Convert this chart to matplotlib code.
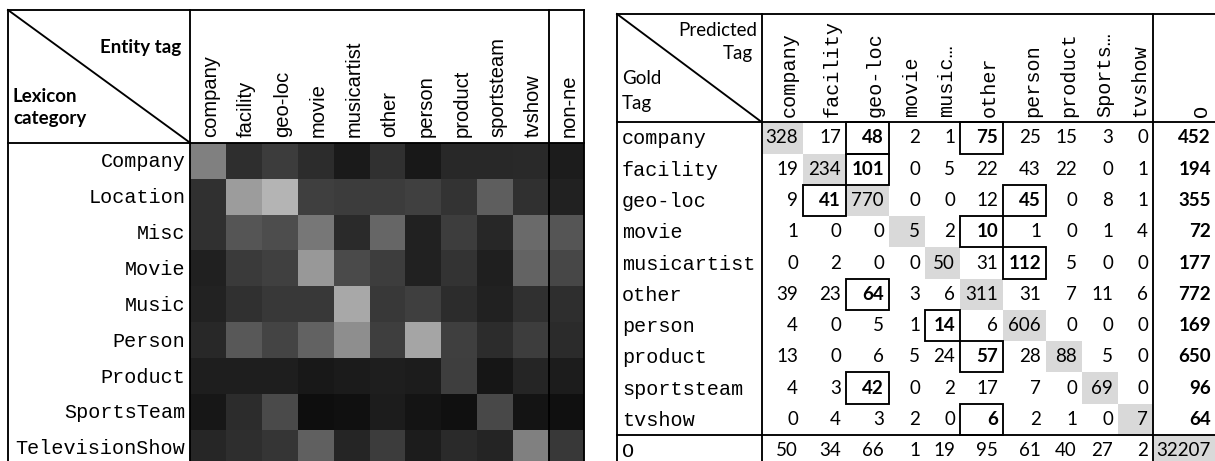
import matplotlib
matplotlib.use("Agg")
import matplotlib.pyplot as plt
from matplotlib.patches import Rectangle
import numpy as np

# ---------------- data ----------------
lexicon_categories = ['Company', 'Location', 'Misc', 'Movie', 'Music', 'Person',
                      'Product', 'SportsTeam', 'TelevisionShow']
entity_tags = ['company', 'facility', 'geo-loc', 'movie', 'musicartist', 'other',
               'person', 'product', 'sportsteam', 'tvshow', 'non-ne']
# grey level (0-255) of each heat-map cell, rows = lexicon categories
heat_grey = [
    [128, 46, 60, 44, 26, 48, 24, 40, 40, 41, 28],
    [48, 156, 180, 63, 60, 60, 64, 51, 94, 48, 33],
    [48, 85, 77, 119, 42, 102, 33, 61, 39, 106, 85],
    [32, 58, 64, 152, 74, 61, 33, 51, 31, 99, 71],
    [34, 48, 56, 56, 168, 56, 63, 44, 33, 48, 46],
    [40, 88, 68, 98, 142, 62, 165, 63, 44, 61, 43],
    [30, 30, 30, 24, 27, 30, 28, 62, 22, 37, 28],
    [23, 44, 74, 14, 16, 28, 20, 16, 72, 20, 16],
    [38, 46, 53, 96, 37, 60, 28, 42, 36, 128, 56],
]

gold_tags = ['company', 'facility', 'geo-loc', 'movie', 'musicartist', 'other',
             'person', 'product', 'sportsteam', 'tvshow', 'O']
predicted_tags = ['company', 'facility', 'geo-loc', 'movie', 'music\u2026', 'other',
                  'person', 'product', 'Sports\u2026', 'tvshow', 'O']
confusion = [
    [328, 17, 48, 2, 1, 75, 25, 15, 3, 0, 452],
    [19, 234, 101, 0, 5, 22, 43, 22, 0, 1, 194],
    [9, 41, 770, 0, 0, 12, 45, 0, 8, 1, 355],
    [1, 0, 0, 5, 2, 10, 1, 0, 1, 4, 72],
    [0, 2, 0, 0, 50, 31, 112, 5, 0, 0, 177],
    [39, 23, 64, 3, 6, 311, 31, 7, 11, 6, 772],
    [4, 0, 5, 1, 14, 6, 606, 0, 0, 0, 169],
    [13, 0, 6, 5, 24, 57, 28, 88, 5, 0, 650],
    [4, 3, 42, 0, 2, 17, 7, 0, 69, 0, 96],
    [0, 4, 3, 2, 0, 6, 2, 1, 0, 7, 64],
    [50, 34, 66, 1, 19, 95, 61, 40, 27, 2, 32207],
]
# highlighted (boxed, bold) confusions: (gold row, predicted col)
boxed_cells = [(0, 2), (0, 5), (1, 2), (2, 1), (2, 6), (3, 5), (4, 6),
               (5, 2), (6, 4), (7, 5), (8, 2), (9, 5)]

# ---------------- layout ----------------
W, H = 1215, 461
fig = plt.figure(figsize=(W / 100, H / 100), dpi=100)
ax = fig.add_axes([0, 0, 1, 1])
ax.set_xlim(0, W)
ax.set_ylim(H, 0)
ax.axis('off')

MONO = 'Liberation Mono'
ARIAL = 'Liberation Sans'
CAL = 'Lato'
LW = 1.35


def line(x0, y0, x1, y1, lw=LW):
    ax.plot([x0, x1], [y0, y1], color='black', lw=lw, solid_capstyle='projecting')


# ===== left: lexicon heat map =====
L_left, L_top, L_div, L_hdr = 8, 10, 190, 142.7
cw, rh = 35.9, 35.9
ncol_main = len(entity_tags) - 1
L_nn = L_div + cw * ncol_main
L_right = L_nn + 35
xedges = [L_div + cw * i for i in range(ncol_main + 1)] + [L_right]
yedges = [L_hdr + rh * i for i in range(len(lexicon_categories) + 1)]
ax.pcolormesh(xedges, yedges, np.array(heat_grey, dtype=float), cmap='gray',
              vmin=0, vmax=255, shading='flat', zorder=1)

line(L_left, L_top, L_right, L_top)
line(L_left, L_top, L_left, H + 5)
line(L_right, L_top, L_right, H + 5)
line(L_div, L_top, L_div, H + 5)
line(L_nn, L_top, L_nn, H + 5)
line(L_left, L_hdr, L_right, L_hdr)
line(L_left, L_top, L_div, L_hdr)

ax.text(181.5, 47, 'Entity tag', family=CAL, weight='bold', fontsize=13.5,
        ha='right', va='center')
ax.text(13, 96, 'Lexicon', family=CAL, weight='bold', fontsize=13.5,
        ha='left', va='center')
ax.text(13, 118.5, 'category', family=CAL, weight='bold', fontsize=13.5,
        ha='left', va='center')

for j, tag in enumerate(entity_tags):
    ax.text(xedges[j] + 26, 137, tag, family=ARIAL, fontsize=14.5, rotation=90,
            rotation_mode='anchor', ha='left', va='baseline')
for i, cat in enumerate(lexicon_categories):
    ax.text(185.5, yedges[i] + rh / 2 + 1, cat, family=MONO, fontsize=14.5,
            ha='right', va='center')

# ===== right: confusion matrix table =====
R_left, R_top, R_div, R_hdr = 617, 14, 762, 122.3
col_edges = [762, 803, 846, 889, 925, 960, 1003, 1046, 1082, 1118, 1153, 1240]
rrh = 31.27
row_edges = [R_hdr + rrh * i for i in range(len(gold_tags) + 1)]
nreal = len(gold_tags) - 1

# grey diagonal cells
for k in range(len(gold_tags)):
    x0, x1 = col_edges[k], col_edges[k + 1]
    ax.add_patch(Rectangle((x0, row_edges[k]), x1 - x0, rrh, facecolor='#d9d9d9',
                           edgecolor='none', zorder=1))

line(R_left, R_top, W + 10, R_top)
line(R_left, R_top, R_left, H + 5)
line(R_div, R_top, R_div, H + 5)
line(col_edges[10], R_top, col_edges[10], H + 5)
line(R_left, R_hdr, W + 10, R_hdr)
line(R_left, row_edges[nreal], W + 10, row_edges[nreal])
line(R_left, R_top, R_div, R_hdr)

ax.text(757, 30, 'Predicted', family=CAL, fontsize=13.5, ha='right', va='center')
ax.text(753, 53, 'Tag', family=CAL, fontsize=13.5, ha='right', va='center')
ax.text(622, 78, 'Gold', family=CAL, fontsize=13.5, ha='left', va='center')
ax.text(622, 103, 'Tag', family=CAL, fontsize=13.5, ha='left', va='center')

for j, tag in enumerate(predicted_tags):
    xr = col_edges[j + 1] - 8 if j < 10 else 1207
    ax.text(xr, 116.5, tag, family=MONO, fontsize=14.5, rotation=90,
            rotation_mode='anchor', ha='left', va='baseline')

for i, tag in enumerate(gold_tags):
    yc = row_edges[i] + rrh / 2
    ax.text(622, yc + 1, tag, family=MONO, fontsize=14.5, ha='left', va='center')
    for j, v in enumerate(confusion[i]):
        bold = (i, j) in boxed_cells or (j == 10 and i < nreal)
        xr = col_edges[j + 1] - 5 if j < 10 else 1211
        ax.text(xr, yc, str(v), family=CAL, fontsize=13.5,
                weight='bold' if bold else 'normal', ha='right', va='center')

for (i, j) in boxed_cells:
    x0, x1 = col_edges[j], col_edges[j + 1]
    ax.add_patch(Rectangle((x0, row_edges[i]), x1 - x0, rrh, facecolor='none',
                           edgecolor='black', lw=LW, zorder=3))

fig.savefig('out.png', dpi=100)
